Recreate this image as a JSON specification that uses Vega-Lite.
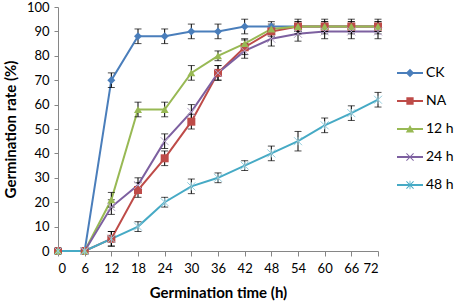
{
  "$schema": "https://vega.github.io/schema/vega-lite/v6.json",
  "width": 320,
  "height": 244,
  "autosize": {"type": "none"},
  "padding": {"left": 58, "top": 7, "right": 76, "bottom": 52},
  "background": "white",
  "config": {
    "font": "Lato",
    "view": {"stroke": null},
    "axis": {
      "grid": false,
      "domainColor": "#868686",
      "tickColor": "#868686",
      "labelFont": "Lato",
      "labelFontSize": 13,
      "labelColor": "#000000",
      "titleFont": "Lato",
      "titleFontSize": 15,
      "titleFontWeight": "bold",
      "titleColor": "#000000"
    },
    "legend": {
      "title": null,
      "orient": "none",
      "legendX": 339,
      "legendY": 53,
      "symbolSize": 676,
      "labelFont": "Lato",
      "labelFontSize": 14,
      "labelColor": "#000000",
      "labelOffset": 3,
      "rowPadding": 8,
      "symbolStrokeWidth": 0
    }
  },
  "data": {
    "values": [
      {"series": "CK", "time": 0, "rate": 0, "err": 0},
      {"series": "CK", "time": 6, "rate": 0, "err": 0},
      {"series": "CK", "time": 12, "rate": 70, "err": 3},
      {"series": "CK", "time": 18, "rate": 88, "err": 3},
      {"series": "CK", "time": 24, "rate": 88, "err": 3},
      {"series": "CK", "time": 30, "rate": 90, "err": 3},
      {"series": "CK", "time": 36, "rate": 90, "err": 3},
      {"series": "CK", "time": 42, "rate": 92, "err": 3},
      {"series": "CK", "time": 48, "rate": 92, "err": 2},
      {"series": "CK", "time": 54, "rate": 92, "err": 2},
      {"series": "CK", "time": 60, "rate": 92, "err": 2},
      {"series": "CK", "time": 66, "rate": 92, "err": 2},
      {"series": "CK", "time": 72, "rate": 92, "err": 2},
      {"series": "NA", "time": 0, "rate": 0, "err": 0},
      {"series": "NA", "time": 6, "rate": 0, "err": 0},
      {"series": "NA", "time": 12, "rate": 5, "err": 3},
      {"series": "NA", "time": 18, "rate": 25, "err": 3},
      {"series": "NA", "time": 24, "rate": 38, "err": 3},
      {"series": "NA", "time": 30, "rate": 53, "err": 3},
      {"series": "NA", "time": 36, "rate": 73, "err": 3},
      {"series": "NA", "time": 42, "rate": 83.5, "err": 3},
      {"series": "NA", "time": 48, "rate": 90, "err": 2},
      {"series": "NA", "time": 54, "rate": 92, "err": 3},
      {"series": "NA", "time": 60, "rate": 92, "err": 3},
      {"series": "NA", "time": 66, "rate": 92, "err": 3},
      {"series": "NA", "time": 72, "rate": 92, "err": 3},
      {"series": "12 h", "time": 0, "rate": 0, "err": 0},
      {"series": "12 h", "time": 6, "rate": 0, "err": 0},
      {"series": "12 h", "time": 12, "rate": 21, "err": 3},
      {"series": "12 h", "time": 18, "rate": 58, "err": 3},
      {"series": "12 h", "time": 24, "rate": 58, "err": 3},
      {"series": "12 h", "time": 30, "rate": 73, "err": 3},
      {"series": "12 h", "time": 36, "rate": 80, "err": 2},
      {"series": "12 h", "time": 42, "rate": 85, "err": 2},
      {"series": "12 h", "time": 48, "rate": 91, "err": 2},
      {"series": "12 h", "time": 54, "rate": 92, "err": 2},
      {"series": "12 h", "time": 60, "rate": 92, "err": 2},
      {"series": "12 h", "time": 66, "rate": 92, "err": 2},
      {"series": "12 h", "time": 72, "rate": 92, "err": 2},
      {"series": "24 h", "time": 0, "rate": 0, "err": 0},
      {"series": "24 h", "time": 6, "rate": 0, "err": 0},
      {"series": "24 h", "time": 12, "rate": 18, "err": 3},
      {"series": "24 h", "time": 18, "rate": 27, "err": 3},
      {"series": "24 h", "time": 24, "rate": 45, "err": 3},
      {"series": "24 h", "time": 30, "rate": 57, "err": 3},
      {"series": "24 h", "time": 36, "rate": 73, "err": 3},
      {"series": "24 h", "time": 42, "rate": 82, "err": 3},
      {"series": "24 h", "time": 48, "rate": 87, "err": 3},
      {"series": "24 h", "time": 54, "rate": 89, "err": 3},
      {"series": "24 h", "time": 60, "rate": 90, "err": 3},
      {"series": "24 h", "time": 66, "rate": 90, "err": 3},
      {"series": "24 h", "time": 72, "rate": 90, "err": 3},
      {"series": "48 h", "time": 0, "rate": 0, "err": 0},
      {"series": "48 h", "time": 6, "rate": 0, "err": 0},
      {"series": "48 h", "time": 12, "rate": 5, "err": 3},
      {"series": "48 h", "time": 18, "rate": 10, "err": 2},
      {"series": "48 h", "time": 24, "rate": 20, "err": 2},
      {"series": "48 h", "time": 30, "rate": 26.5, "err": 3},
      {"series": "48 h", "time": 36, "rate": 30, "err": 2},
      {"series": "48 h", "time": 42, "rate": 35, "err": 2},
      {"series": "48 h", "time": 48, "rate": 40, "err": 3},
      {"series": "48 h", "time": 54, "rate": 45, "err": 4},
      {"series": "48 h", "time": 60, "rate": 51.5, "err": 3},
      {"series": "48 h", "time": 66, "rate": 56.5, "err": 3},
      {"series": "48 h", "time": 72, "rate": 62, "err": 3}
    ]
  },
  "encoding": {
    "x": {
      "field": "time",
      "type": "quantitative",
      "scale": {"domain": [0, 72], "nice": false, "zero": false},
      "axis": {
        "values": [0, 6, 12, 18, 24, 30, 36, 42, 48, 54, 60, 66, 72],
        "title": "Germination time (h)",
        "tickSize": 5,
        "labelPadding": 6,
        "titlePadding": 10
      }
    },
    "y": {
      "field": "rate",
      "type": "quantitative",
      "scale": {"domain": [0, 100], "nice": false},
      "axis": {
        "values": [0, 10, 20, 30, 40, 50, 60, 70, 80, 90, 100],
        "title": "Germination rate (%)",
        "tickSize": 4,
        "labelPadding": 5,
        "titlePadding": 8
      }
    }
  },
  "layer": [
    {
      "mark": {"type": "line", "strokeWidth": 2},
      "encoding": {
        "color": {
          "field": "series",
          "type": "nominal",
          "scale": {
            "domain": ["CK", "NA", "12 h", "24 h", "48 h"],
            "range": ["#4A7EBB", "#BE4B48", "#98B954", "#7D60A0", "#46AAC5"]
          },
          "legend": null
        },
        "order": {"field": "time", "type": "quantitative"}
      }
    },
    {
      "transform": [{"filter": "datum.err > 0"}],
      "mark": {"type": "errorbar", "ticks": {"size": 7, "color": "black"}, "color": "black", "thickness": 1},
      "encoding": {
        "yError": {"field": "err"}
      }
    },
    {
      "transform": [{"filter": "datum.series === 'CK' || datum.series === 'NA' || datum.series === '12 h'"}],
      "mark": {"type": "point", "filled": true, "opacity": 1, "size": 64},
      "encoding": {
        "color": {"field": "series", "type": "nominal", "legend": null},
        "shape": {
          "field": "series",
          "type": "nominal",
          "scale": {"domain": ["CK", "NA", "12 h"], "range": ["diamond", "square", "triangle-up"]},
          "legend": null
        }
      }
    },
    {
      "transform": [{"filter": "datum.series === '24 h'"}],
      "mark": {"type": "point", "filled": false, "opacity": 1, "size": 64, "strokeWidth": 1, "color": "#B3A2C7", "shape": "M-1,-1L1,1M-1,1L1,-1"},
      "encoding": {}
    },
    {
      "transform": [{"filter": "datum.series === '48 h'"}],
      "mark": {"type": "point", "filled": false, "opacity": 1, "size": 64, "strokeWidth": 1, "color": "#93CDDD", "shape": "M-1,-1L1,1M-1,1L1,-1M0,-1L0,1"},
      "encoding": {}
    },
    {
      "transform": [{"filter": "false"}],
      "mark": {"type": "point", "filled": true, "opacity": 1, "strokeWidth": 0},
      "encoding": {
        "fill": {
          "field": "series",
          "type": "nominal",
          "scale": {
            "domain": ["CK", "NA", "12 h", "24 h", "48 h"],
            "range": ["#4A7EBB", "#BE4B48", "#98B954", "#7D60A0", "#46AAC5"]
          },
          "legend": {"title": null}
        },
        "shape": {
          "field": "series",
          "type": "nominal",
          "scale": {
            "domain": ["CK", "NA", "12 h", "24 h", "48 h"],
            "range": [
              "M-1,-0.08L1,-0.08L1,0.08L-1,0.08Z M0,-0.32L0.32,0L0,0.32L-0.32,0Z",
              "M-1,-0.08L1,-0.08L1,0.08L-1,0.08Z M-0.28,-0.28L0.28,-0.28L0.28,0.28L-0.28,0.28Z",
              "M-1,-0.08L1,-0.08L1,0.08L-1,0.08Z M0,-0.3L0.32,0.26L-0.32,0.26Z",
              "M-1,-0.08L1,-0.08L1,0.08L-1,0.08Z M-0.3,-0.25L-0.25,-0.3L0,-0.05L0.25,-0.3L0.3,-0.25L0.05,0L0.3,0.25L0.25,0.3L0,0.05L-0.25,0.3L-0.3,0.25L-0.05,0Z",
              "M-1,-0.08L1,-0.08L1,0.08L-1,0.08Z M-0.3,-0.25L-0.25,-0.3L0,-0.05L0.25,-0.3L0.3,-0.25L0.05,0L0.3,0.25L0.25,0.3L0,0.05L-0.25,0.3L-0.3,0.25L-0.05,0Z M-0.03,-0.32L0.03,-0.32L0.03,0.32L-0.03,0.32Z"
            ]
          },
          "legend": {"title": null}
        }
      }
    }
  ],
  "resolve": {"scale": {"shape": "independent", "fill": "independent"}}
}
